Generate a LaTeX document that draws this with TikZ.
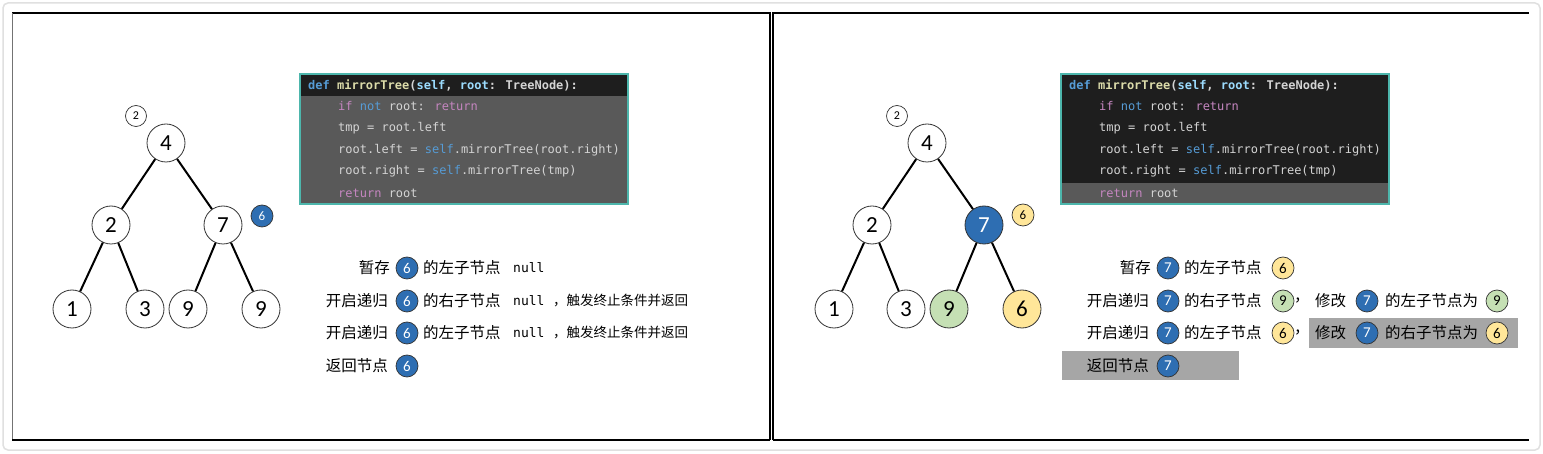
\documentclass[tikz,border=0pt]{standalone}
\usepackage{fontspec}
\setmainfont{Carlito}
\newfontfamily\cjk{Noto Sans CJK SC}
\newfontfamily\cfont{DejaVu Sans Mono}
\definecolor{nblue}{HTML}{2E6EB2}
\definecolor{ngreen}{HTML}{C5E0B4}
\definecolor{nyellow}{HTML}{FFE699}
\definecolor{cdark}{HTML}{1E1E1E}
\definecolor{cgray}{HTML}{595959}
\definecolor{cteal}{HTML}{4DB6AC}
\definecolor{kwblue}{HTML}{569CD6}
\definecolor{kwpurple}{HTML}{C586C0}
\definecolor{fnyellow}{HTML}{DCDCAA}
\definecolor{parblue}{HTML}{9CDCFE}
\definecolor{ctext}{HTML}{D4D4D4}
\definecolor{hlgray}{HTML}{A6A6A6}
\newcommand\fzh{\cjk\fontsize{15.5}{18}\selectfont}
\newcommand\fzs{\cjk\fontsize{13.5}{16}\selectfont}
\newcommand\fcode{\cfont\fontsize{12}{14}\selectfont}
\newcommand\fnull{\cfont\fontsize{13}{15}\selectfont}
\tikzset{
  tnode/.style={circle, draw=black!80, line width=0.8pt, fill=white, minimum size=38pt, inner sep=0pt, font=\fontsize{23}{26}\selectfont},
  tedge/.style={line width=2pt, black},
  smallc/.style={circle, draw=black!80, line width=0.7pt, fill=white, minimum size=21pt, inner sep=0pt, font=\fontsize{12}{14}\selectfont},
  bc/.style={circle, draw=black!80, line width=0.7pt, fill=nblue, text=white, minimum size=22pt, inner sep=0pt, font=\fontsize{15}{17}\selectfont},
  gc/.style={bc, fill=ngreen, text=black},
  yc/.style={bc, fill=nyellow, text=black},
  zhr/.style={anchor=east, inner sep=0pt, font=\fzh},
  zhl/.style={anchor=west, inner sep=0pt, font=\fzh},
  zhs/.style={anchor=west, inner sep=0pt, font=\fzs},
  nulltxt/.style={anchor=west, inner sep=0pt, font=\fnull},
  codeln/.style={anchor=west, inner sep=0pt, font=\fcode, text=ctext},
}
\begin{document}
\begin{tikzpicture}[x=1pt,y=-1pt]
\useasboundingbox (0,0) rectangle (1543,454);
\fill[white] (0,0) rectangle (1543,454);
\draw[black!12, line width=1.5pt, rounded corners=5pt] (3,3) rectangle (1540,450);
% frames
\draw[black, line width=1.2pt] (12,13) -- (770,13) -- (770,440);
\draw[black!55, line width=1pt] (12,13) -- (12,440);
\draw[black, line width=2.5pt] (12,440) -- (770,440);
\draw[black, line width=1.2pt] (773,440) -- (773,13) -- (1529,13);
\draw[black, line width=2.5pt] (773,440) -- (1529,440);

% ===== LEFT PANEL =====
\node[tnode] (a4) at (166,143) {4};
\node[tnode] (a2) at (111,225) {2};
\node[tnode] (a7) at (223,225) {7};
\node[tnode] (a1) at (72,309) {1};
\node[tnode] (a3) at (145,309) {3};
\node[tnode] (a9l) at (188,309) {9};
\node[tnode] (a9r) at (261,309) {9};
\draw[tedge] (a4) -- (a2);
\draw[tedge] (a4) -- (a7);
\draw[tedge] (a2) -- (a1);
\draw[tedge] (a2) -- (a3);
\draw[tedge] (a7) -- (a9l);
\draw[tedge] (a7) -- (a9r);
\node[smallc] (adepth) at (136,116) {2};
\node[bc, font=\fontsize{13}{15}\selectfont] (a6) at (262,216) {6};

% code box left
\draw[cteal, line width=1.2pt, fill=cgray] (300,74) rectangle (628,204);
\fill[cdark] (300.6,74.6) rectangle (627.4,96);
\node[codeln] (ac0) at (308,85) {\bfseries\textcolor{kwblue}{def} \textcolor{fnyellow}{mirrorTree}(\textcolor{parblue}{self}, \textcolor{parblue}{root}: TreeNode):};
\node[codeln] (ac1) at (338,106) {\textcolor{kwpurple}{if} \textcolor{kwblue}{not} root: \textcolor{kwpurple}{return}};
\node[codeln] (ac2) at (338,128) {tmp = root.left};
\node[codeln] (ac3) at (338,150) {root.left = \textcolor{kwblue}{self}.mirrorTree(root.right)};
\node[codeln] (ac4) at (338,171) {root.right = \textcolor{kwblue}{self}.mirrorTree(tmp)};
\node[codeln] (ac5) at (338,193) {\textcolor{kwpurple}{return} root};

% text rows left
\node[zhr] (ar1a) at (390,268) {暂存};
\node[bc] (ar1c) at (407,268) {6};
\node[zhl] (ar1b) at (423,268) {的左子节点};
\node[nulltxt] (ar1n) at (513,268) {null};

\node[zhr] (ar2a) at (388,301) {开启递归};
\node[bc] (ar2c) at (407,301) {6};
\node[zhl] (ar2b) at (423,301) {的右子节点};
\node[nulltxt] (ar2n) at (513,301) {null};
\node[zhs] (ar2s) at (553,301) {，触发终止条件并返回};

\node[zhr] (ar3a) at (388,333) {开启递归};
\node[bc] (ar3c) at (407,333) {6};
\node[zhl] (ar3b) at (423,333) {的左子节点};
\node[nulltxt] (ar3n) at (513,333) {null};
\node[zhs] (ar3s) at (553,333) {，触发终止条件并返回};

\node[zhr] (ar4a) at (388,366) {返回节点};
\node[bc] (ar4c) at (407,366) {6};

% ===== RIGHT PANEL =====
\node[tnode] (b4) at (927,143) {4};
\node[tnode] (b2) at (872,225) {2};
\node[tnode, fill=nblue, text=white] (b7) at (984,225) {7};
\node[tnode] (b1) at (834,309) {1};
\node[tnode] (b3) at (906,309) {3};
\node[tnode, fill=ngreen] (b9) at (949,309) {9};
\node[tnode, fill=nyellow] (b6) at (1022,309) {6};
\draw[tedge] (b4) -- (b2);
\draw[tedge] (b4) -- (b7);
\draw[tedge] (b2) -- (b1);
\draw[tedge] (b2) -- (b3);
\draw[tedge] (b7) -- (b9);
\draw[tedge] (b7) -- (b6);
\node[smallc] (bdepth) at (897,116) {2};
\node[yc, font=\fontsize{13}{15}\selectfont] (b6s) at (1023,215) {6};

% code box right
\draw[cteal, line width=1.2pt, fill=cdark] (1061,74) rectangle (1389,204);
\fill[cgray] (1061.6,183) rectangle (1388.4,203.4);
\node[codeln] (bc0) at (1069,85) {\bfseries\textcolor{kwblue}{def} \textcolor{fnyellow}{mirrorTree}(\textcolor{parblue}{self}, \textcolor{parblue}{root}: TreeNode):};
\node[codeln] (bc1) at (1099,106) {\textcolor{kwpurple}{if} \textcolor{kwblue}{not} root: \textcolor{kwpurple}{return}};
\node[codeln] (bc2) at (1099,128) {tmp = root.left};
\node[codeln] (bc3) at (1099,150) {root.left = \textcolor{kwblue}{self}.mirrorTree(root.right)};
\node[codeln] (bc4) at (1099,171) {root.right = \textcolor{kwblue}{self}.mirrorTree(tmp)};
\node[codeln] (bc5) at (1099,193) {\textcolor{kwpurple}{return} root};

% highlight boxes
\fill[hlgray] (1309,318) rectangle (1518,348);
\fill[hlgray] (1062,351) rectangle (1239,380);

% text rows right
\node[zhr] (br1a) at (1151,268) {暂存};
\node[bc] (br1c) at (1168,268) {7};
\node[zhl] (br1b) at (1184,268) {的左子节点};
\node[yc] (br1d) at (1283,268) {6};

\node[zhr] (br2a) at (1149,301) {开启递归};
\node[bc] (br2c) at (1168,301) {7};
\node[zhl] (br2b) at (1184,301) {的右子节点};
\node[gc] (br2d) at (1283,301) {9};
\node[zhl] (br2e) at (1294,301) {，};
\node[zhl] (br2f) at (1315,301) {修改};
\node[bc] (br2g) at (1367,301) {7};
\node[zhl] (br2h) at (1385,301) {的左子节点为};
\node[gc] (br2i) at (1497,301) {9};

\node[zhr] (br3a) at (1149,333) {开启递归};
\node[bc] (br3c) at (1168,333) {7};
\node[zhl] (br3b) at (1184,333) {的左子节点};
\node[yc] (br3d) at (1283,333) {6};
\node[zhl] (br3e) at (1294,333) {，};
\node[zhl] (br3f) at (1315,333) {修改};
\node[bc] (br3g) at (1367,333) {7};
\node[zhl] (br3h) at (1385,333) {的右子节点为};
\node[yc] (br3i) at (1497,333) {6};

\node[zhr] (br4a) at (1149,366) {返回节点};
\node[bc] (br4c) at (1168,366) {7};
\end{tikzpicture}
\end{document}
